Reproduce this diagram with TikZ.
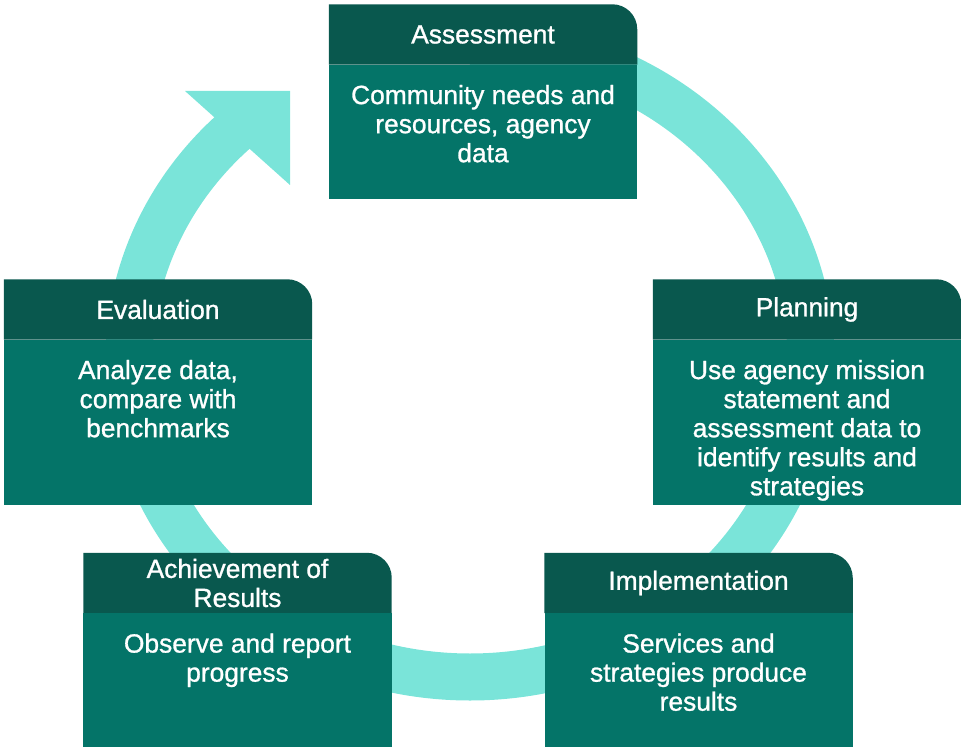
\documentclass[tikz,border=0pt]{standalone}
\usepackage{fontspec}
\setmainfont{Liberation Sans}
\newfontfamily\cardfont{Liberation Sans}[FakeBold=1]
\usetikzlibrary{positioning, backgrounds}

\definecolor{headteal}{RGB}{9,88,78}
\definecolor{bodyteal}{RGB}{4,116,104}
\definecolor{ringcyan}{RGB}{122,228,217}

% dark tab behind a header node, only its top right corner rounded
\newcommand{\headerbg}[1]{%
  \fill[headteal] (#1.south west) |- ([xshift=-0.75cm]#1.north east)
    arc[start angle=90, end angle=0, radius=0.75cm] -- (#1.south east) -- cycle;}

\begin{document}
\begin{tikzpicture}[
    x=0.03cm, y=0.03cm,
    node distance=0pt,
    head/.style={minimum width=9.24cm, minimum height=1.8cm, inner sep=0pt, align=center, text=white, font=\cardfont\fontsize{22.5}{24.8}\selectfont},
    panel/.style={fill=bodyteal, minimum width=9.24cm, inner sep=0pt, anchor=north},
    txt/.style={text=white, align=center, inner sep=0pt, anchor=north, font=\cardfont\fontsize{22.5}{24.8}\selectfont},
    ring/.style={ringcyan, line width=1.41cm}
]
    \useasboundingbox (0,0) rectangle (961,748);

    % Stage headers
    \node[head] (assess) at (483,713.5) {Assessment};
    \node[head] (plan) at (807,438.5) {Planning};
    \node[head] (impl) at (698.5,165) {Implementation};
    \node[head] (achieve) at (237.5,165) {Achievement of\\Results};
    \node[head] (eval) at (158,438.5) {Evaluation};

    % Stage bodies
    \node[panel, minimum height=4.02cm, below=of assess] (assess-body) {};
    \node[panel, minimum height=4.95cm, below=of plan] (plan-body) {};
    \node[panel, minimum height=4.02cm, below=of impl] (impl-body) {};
    \node[panel, minimum height=4.02cm, below=of achieve] (achieve-body) {};
    \node[panel, minimum height=4.95cm, below=of eval] (eval-body) {};

    \node[txt, below=0.6cm of assess-body.north] (assess-text) {Community needs and\\resources, agency\\data};
    \node[txt, below=0.6cm of plan-body.north] (plan-text) {Use agency mission\\statement and\\assessment data to\\identify results and\\strategies};
    \node[txt, below=0.6cm of impl-body.north] (impl-text) {Services and\\strategies produce\\results};
    \node[txt, below=0.6cm of achieve-body.north] (achieve-text) {Observe and report\\progress};
    \node[txt, below=0.6cm of eval-body.north] (eval-text) {Analyze data,\\compare with\\benchmarks};

    \begin{scope}[on background layer]
        % Cycle ring
        \draw[ring] (470,705) arc[start angle=90, end angle=-226.5, x radius=341, y radius=317];
        \fill[ringcyan] (185,657) -- (290,657) -- (290,563) -- cycle;

        % Header tabs
        \headerbg{assess}
        \headerbg{plan}
        \headerbg{impl}
        \headerbg{achieve}
        \headerbg{eval}
    \end{scope}
\end{tikzpicture}
\end{document}
